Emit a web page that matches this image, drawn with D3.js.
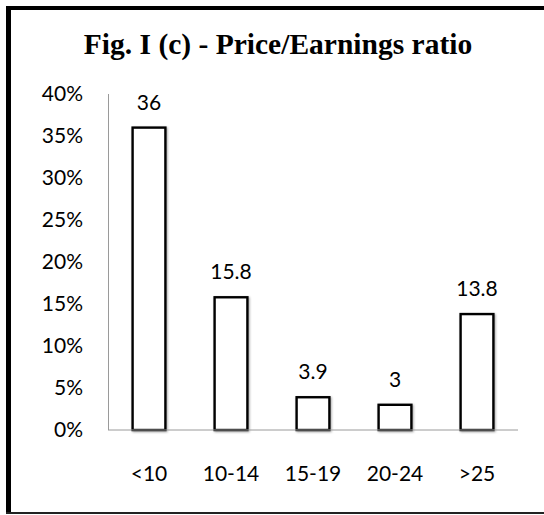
<!DOCTYPE html>
<html>
<head>
<meta charset="utf-8">
<script src="https://cdn.jsdelivr.net/npm/d3@7"></script>
<style>
  html, body { margin: 0; padding: 0; background: #fff; }
  svg { display: block; }
  .tick-label { font-family: Lato, "Open Sans", sans-serif; font-size: 21px; fill: #000; }
  .title { font-family: "Liberation Serif", "Times New Roman", serif; font-weight: bold; font-size: 29.5px; fill: #000; }
</style>
</head>
<body>
<svg id="chart" width="544" height="515"></svg>
<script>
// P/E ratio distribution (share of companies, %)
const categories = ["<10", "10-14", "15-19", "20-24", ">25"];
const values = [36, 15.8, 3.9, 3, 13.8];
const yTicks = [0, 5, 10, 15, 20, 25, 30, 35, 40];

const svg = d3.select("#chart");
const margin = { top: 94, right: 26, bottom: 85, left: 108 };
const W = 544, H = 515;

// frame (the right edge is cropped in the original)
svg.append("line").attr("x1", 6).attr("x2", W).attr("y1", 8).attr("y2", 8)
  .attr("stroke", "#000").attr("stroke-width", 4);
svg.append("line").attr("x1", 8.5).attr("x2", 8.5).attr("y1", 6).attr("y2", 514)
  .attr("stroke", "#000").attr("stroke-width", 5);
svg.append("line").attr("x1", 6).attr("x2", W).attr("y1", 513).attr("y2", 513)
  .attr("stroke", "#222").attr("stroke-width", 2);

svg.append("text").attr("class", "title").attr("x", 278).attr("y", 54)
  .attr("text-anchor", "middle").text("Fig. I (c) - Price/Earnings ratio");

const x = d3.scaleBand().domain(categories)
  .range([margin.left, W - margin.right]).paddingInner(0.6).paddingOuter(0.3);
const y = d3.scaleLinear().domain([0, 40]).range([H - margin.bottom, margin.top]);

// y axis: labels only + thin gray line
svg.append("line").attr("x1", margin.left + 0.5).attr("x2", margin.left + 0.5)
  .attr("y1", y(40)).attr("y2", y(0)).attr("stroke", "#9a9a9a").attr("stroke-width", 1);
svg.append("g").selectAll("text").data(yTicks).join("text")
  .attr("class", "tick-label").attr("x", 83).attr("y", (d) => y(d))
  .attr("dy", "0.35em").attr("text-anchor", "end").text((d) => d + "%");

// soft shadow for bars
const defs = svg.append("defs");
const f = defs.append("filter").attr("id", "sh").attr("x", "-20%").attr("y", "-20%")
  .attr("width", "140%").attr("height", "140%");
f.append("feDropShadow").attr("dx", 1).attr("dy", 1).attr("stdDeviation", 1.2)
  .attr("flood-color", "#000").attr("flood-opacity", 0.35);

svg.append("g").selectAll("rect").data(values).join("rect")
  .attr("x", (d, i) => x(categories[i]))
  .attr("y", (d) => y(d))
  .attr("width", x.bandwidth())
  .attr("height", (d) => y(0) - y(d))
  .attr("fill", "#fff").attr("stroke", "#000").attr("stroke-width", 2.4)
  .attr("filter", "url(#sh)");

// baseline
svg.append("line").attr("x1", margin.left).attr("x2", W - margin.right)
  .attr("y1", y(0)).attr("y2", y(0)).attr("stroke", "#9a9a9a").attr("stroke-width", 1);

// value labels
svg.append("g").selectAll("text").data(values).join("text")
  .attr("class", "tick-label")
  .attr("x", (d, i) => x(categories[i]) + x.bandwidth() / 2)
  .attr("y", (d) => y(d) - 18)
  .attr("text-anchor", "middle").text((d) => d);

// category labels
svg.append("g").selectAll("text").data(categories).join("text")
  .attr("class", "tick-label")
  .attr("x", (d) => x(d) + x.bandwidth() / 2).attr("y", 481)
  .attr("text-anchor", "middle").text((d) => d);
</script>
</body>
</html>
